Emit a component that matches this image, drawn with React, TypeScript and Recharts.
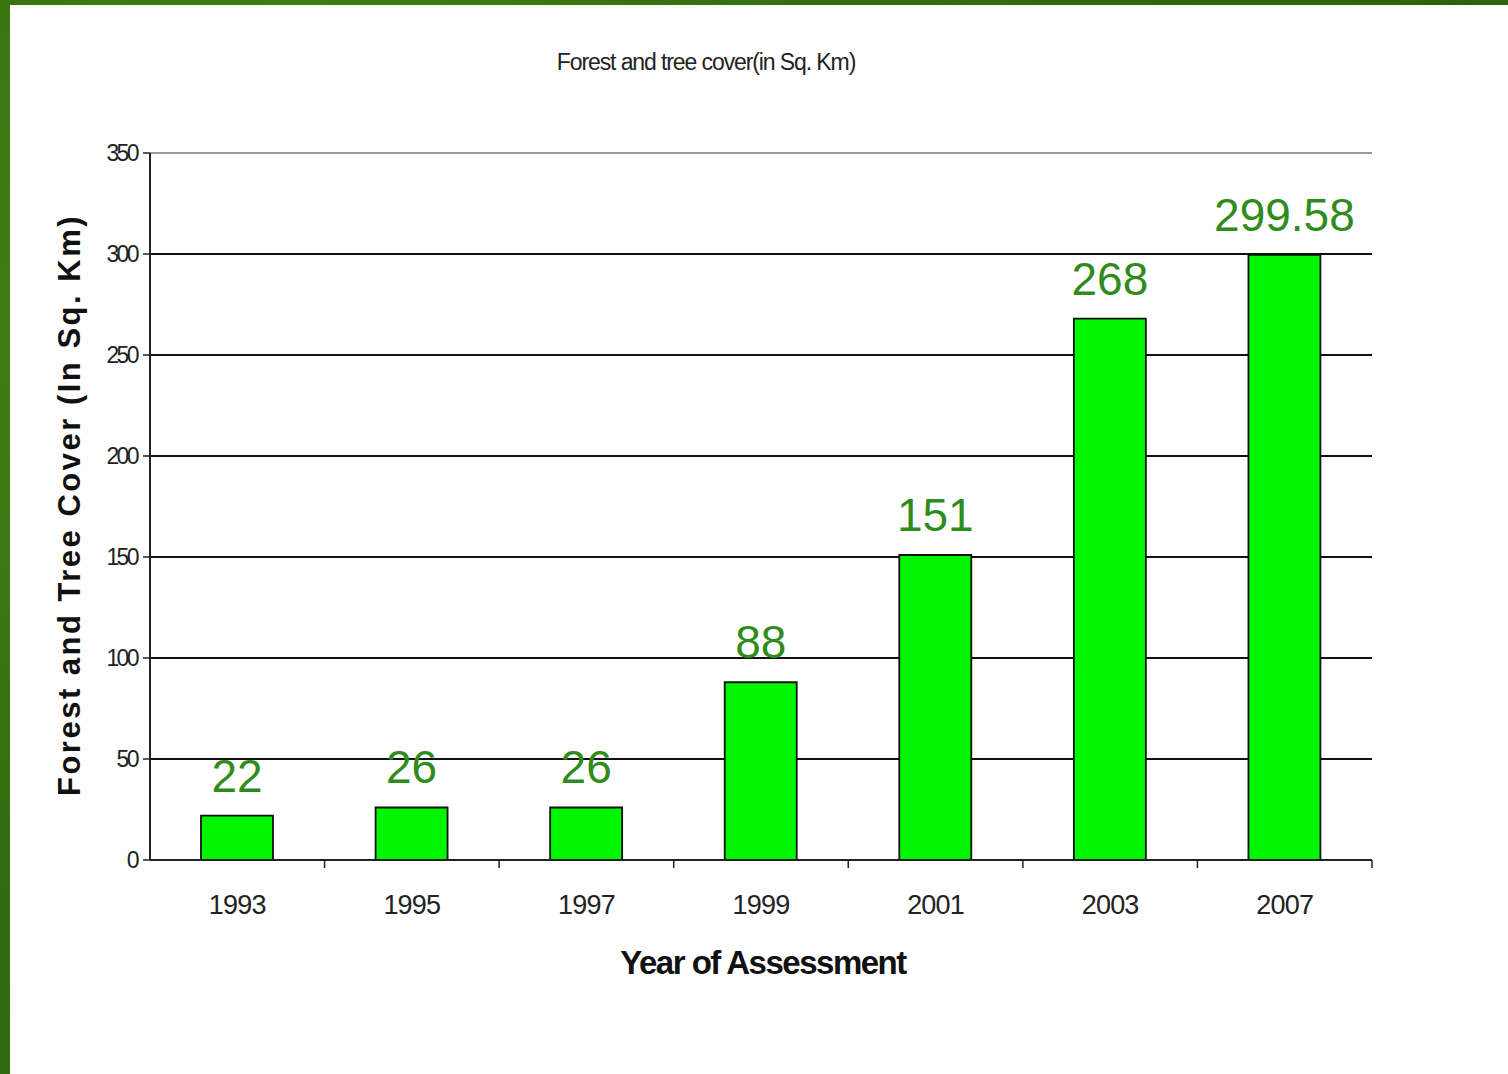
import React from "react";
import { Bar, BarChart, CartesianGrid, LabelList, ReferenceLine, XAxis, YAxis } from "recharts";

const years = ["1993", "1995", "1997", "1999", "2001", "2003", "2007"];
const cover = [22, 26, 26, 88, 151, 268, 299.58];
const yTicks = [0, 50, 100, 150, 200, 250, 300, 350];

const chartData = years.map((year, i) => ({ year, cover: cover[i] }));

const FONT = "'Liberation Sans', Arial, sans-serif";

// x ticks sit on the category boundaries, labels at the centres
function YearTick(props: any) {
  const { x, y, payload, width } = props;
  const half = payload?.offset ?? width / (2 * years.length);
  const axisY = y - 7;
  return (
    <g>
      <line x1={x + half} x2={x + half} y1={axisY} y2={axisY + 8} stroke="#222" strokeWidth={1.5} />
      <text
        x={x}
        y={y + 47}
        textAnchor="middle"
        fontSize={27}
        letterSpacing={-0.8}
        fill="#222"
        fontFamily={FONT}
      >
        {payload.value}
      </text>
    </g>
  );
}

export default function App() {
  return (
    <div
      style={{
        position: "absolute",
        left: 0,
        top: 0,
        width: 1508,
        height: 1074,
        background:
          "radial-gradient(circle at 20% 30%, #4a8a18 0%, #336f0e 40%, #2a600a 100%)",
        overflow: "hidden",
      }}
    >
      <div
        style={{
          position: "absolute",
          left: 10,
          top: 5,
          width: 1498,
          height: 1069,
          background: "#fff",
        }}
      />
      <div
        style={{
          position: "absolute",
          left: 0,
          top: 62,
          width: 1412,
          textAlign: "center",
          fontFamily: FONT,
          fontSize: 23,
          letterSpacing: -1.1,
          color: "#222",
          lineHeight: "0px",
        }}
      >
        Forest and tree cover(in Sq. Km)
      </div>
      <div style={{ position: "absolute", left: 0, top: 0 }}>
        <BarChart
          width={1508}
          height={1074}
          data={chartData}
          margin={{ top: 153, right: 136, bottom: 174, left: 90 }}
        >
          <CartesianGrid
            vertical={false}
            horizontalValues={[50, 100, 150, 200, 250, 300]}
            stroke="#111"
            strokeWidth={1.8}
          />
          <ReferenceLine y={350} stroke="#999" strokeWidth={2} />
          <XAxis
            dataKey="year"
            height={40}
            tickLine={false}
            tickSize={7}
            tickMargin={0}
            axisLine={{ stroke: "#222", strokeWidth: 2 }}
            tick={<YearTick />}
            interval={0}
          />
          <YAxis
            domain={[0, 350]}
            ticks={yTicks}
            width={60}
            tickSize={7}
            tickMargin={6}
            axisLine={{ stroke: "#222", strokeWidth: 2 }}
            tickLine={{ stroke: "#222", strokeWidth: 1.5 }}
            tick={{ fontSize: 23, fill: "#222", fontFamily: FONT, letterSpacing: -2.6 }}
          />
          <YAxis
            yAxisId="border"
            orientation="right"
            width={0}
            domain={[0, 350]}
            tick={false}
            tickLine={false}
            axisLine={{ stroke: "#999", strokeWidth: 2 }}
          />
          <Bar
            dataKey="cover"
            barSize={72}
            fill="#00f500"
            stroke="#111"
            strokeWidth={1.8}
            isAnimationActive={false}
          >
            <LabelList
              dataKey="cover"
              position="top"
              offset={24}
              fill="#2f8c1c"
              fontSize={46}
              fontFamily={FONT}
            />
          </Bar>
        </BarChart>
      </div>
      <div
        style={{
          position: "absolute",
          left: 0,
          top: 963,
          width: 1526,
          textAlign: "center",
          fontFamily: FONT,
          fontWeight: "bold",
          fontSize: 33,
          letterSpacing: -1.5,
          color: "#111",
          lineHeight: "0px",
        }}
      >
        Year of Assessment
      </div>
      <div
        style={{
          position: "absolute",
          left: 70,
          top: 505,
          transform: "translate(-50%, -50%) rotate(-90deg)",
          whiteSpace: "nowrap",
          fontFamily: FONT,
          fontWeight: "bold",
          fontSize: 31,
          letterSpacing: 2.5,
          color: "#111",
        }}
      >
        Forest and Tree Cover (In Sq. Km)
      </div>
    </div>
  );
}
